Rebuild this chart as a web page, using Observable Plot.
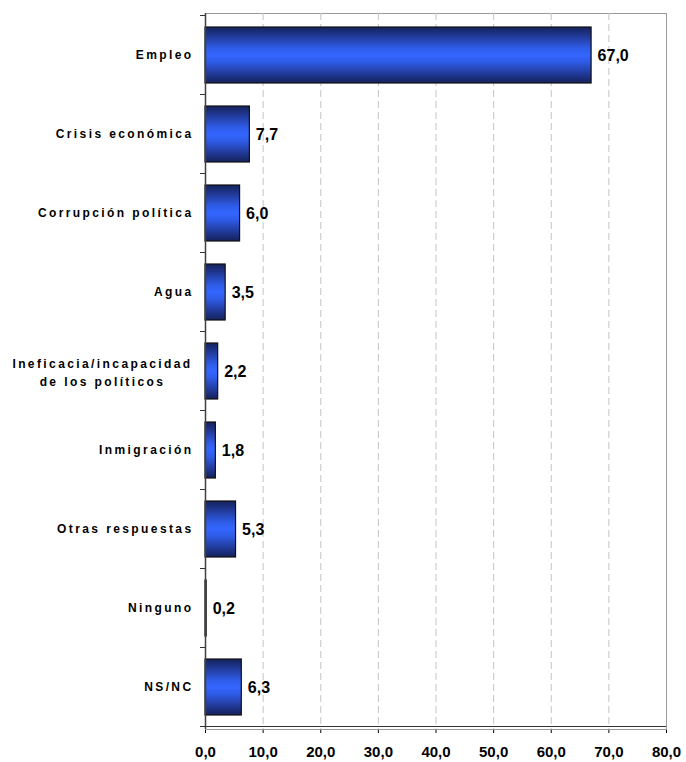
<!DOCTYPE html>
<html>
<head>
<meta charset="utf-8">
<script src="https://cdn.jsdelivr.net/npm/d3@7"></script>
<script src="https://cdn.jsdelivr.net/npm/@observablehq/plot@0.6"></script>
<style>
  html, body { margin: 0; padding: 0; background: white; }
  g[aria-description="cats"] text { letter-spacing: 2.4px; }
</style>
</head>
<body>
<div id="chart"></div>
<script>
const categories = ["Empleo", "Crisis económica", "Corrupción política", "Agua",
  "Ineficacia/incapacidad\nde los políticos", "Inmigración", "Otras respuestas", "Ninguno", "NS/NC"];
const values = [67.0, 7.7, 6.0, 3.5, 2.2, 1.8, 5.3, 0.2, 6.3];
const xTicks = [0, 10, 20, 30, 40, 50, 60, 70, 80];
const gridTicks = [10, 20, 30, 40, 50, 60, 70];

const data = categories.map((c, i) => ({cat: c, value: values[i]}));
const fmt = d => d.toFixed(1).replace(".", ",");
const singleLine = data.filter(d => !d.cat.includes("\n"));
const multiLine = data.filter(d => d.cat.includes("\n"));

const gradientDefs = () => {
  const defs = d3.create("svg:defs");
  const g = defs.append("linearGradient").attr("id", "barGrad")
    .attr("x1", 0).attr("x2", 0).attr("y1", 0).attr("y2", 1);
  [[0, "#14215a"], [0.18, "#223c9e"], [0.38, "#2f5ce8"], [0.5, "#3366ff"],
   [0.62, "#2f5ce8"], [0.82, "#223c9e"], [1, "#14215a"]]
    .forEach(([o, c]) => g.append("stop").attr("offset", o).attr("stop-color", c));
  return defs.node();
};

const chart = Plot.plot({
  width: 686,
  height: 762,
  marginTop: 13,
  marginBottom: 33,
  marginLeft: 205,
  marginRight: 20,
  style: {fontFamily: "'Liberation Sans', Arial, sans-serif", fontSize: "15px", fontWeight: "bold", background: "white", color: "black", overflow: "visible"},
  x: {domain: [0, 80], ticks: xTicks, tickFormat: fmt, tickSize: 4, tickPadding: 13, label: null},
  y: {domain: categories, paddingInner: 0.287, paddingOuter: 0.1435, axis: null},
  marks: [
    gradientDefs,
    Plot.frame({stroke: "#999"}),
    Plot.ruleX(gridTicks, {stroke: "#c4c4c4", strokeDasharray: "7,4"}),
    Plot.barX(data, {x: "value", y: "cat", fill: "url(#barGrad)", stroke: "#111", strokeWidth: 1.2}),
    Plot.ruleX([0], {stroke: "#404040", strokeWidth: 1.5}),
    Plot.text(data, {x: "value", y: "cat", text: d => fmt(d.value), textAnchor: "start", dx: 6, fontSize: 16, fontWeight: "bold", fill: "black"}),
    Plot.text(singleLine, {y: "cat", frameAnchor: "left", text: "cat", textAnchor: "end", dx: -12, fontSize: 12, fontWeight: "bold", fill: "black", ariaDescription: "cats"}),
    Plot.text(multiLine, {y: "cat", frameAnchor: "left", text: "cat", textAnchor: "middle", dx: -103, lineHeight: 1.5, fontSize: 12, fontWeight: "bold", fill: "black", ariaDescription: "cats"})
  ]
});

// y-axis ticks at category boundaries and bottom axis line, from Plot's own scales
const ys = chart.scale("y");
const xs = chart.scale("x");
const gap = (ys.step - ys.bandwidth) / 2;
const bounds = categories.map(c => ys.apply(c) - gap);
bounds.push(ys.apply(categories[categories.length - 1]) + ys.bandwidth + gap);
const svg = d3.select(chart);
const x0 = xs.apply(0), x1 = xs.apply(80);
const g = svg.append("g").attr("stroke", "#333");
g.selectAll("line.yt").data(bounds).join("line")
  .attr("x1", x0 - 5).attr("x2", x0).attr("y1", d => d).attr("y2", d => d);
g.append("line").attr("x1", x0).attr("x2", x1)
  .attr("y1", bounds[bounds.length - 1]).attr("y2", bounds[bounds.length - 1])
  .attr("stroke-width", 1.2);

document.getElementById("chart").append(chart);
</script>
</body>
</html>
